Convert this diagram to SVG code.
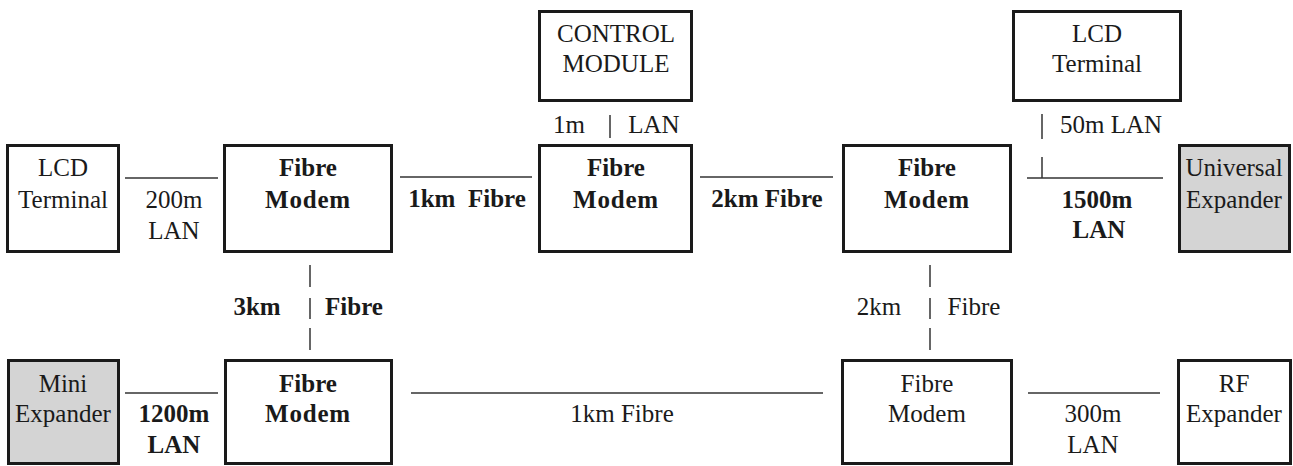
<svg xmlns="http://www.w3.org/2000/svg" width="1293" height="466" viewBox="0 0 1293 466">
<style>
.box{fill:#ffffff;stroke:#1a1a1a;stroke-width:3}
.grey{fill:#d4d4d4}
text{font-family:'Liberation Serif','Times New Roman',serif;font-size:25px;fill:#1a1a1a;text-anchor:middle}
.b{font-weight:bold}
.m{letter-spacing:0.8px}
.conn line{stroke:#333;stroke-width:1.5}
</style>
<rect width="1293" height="466" fill="#ffffff"/>
<g class="conn" id="connectors">
<line x1="125" y1="178" x2="218" y2="178"/>
<line x1="400" y1="177" x2="532" y2="177"/>
<line x1="700" y1="177" x2="833" y2="177"/>
<line x1="1027" y1="178" x2="1163" y2="178"/>
<line x1="1042" y1="157" x2="1042" y2="178"/>
<line x1="1042" y1="114" x2="1042" y2="139"/>
<line x1="610" y1="115" x2="610" y2="138"/>
<line x1="310" y1="265" x2="310" y2="287"/>
<line x1="310" y1="298" x2="310" y2="319"/>
<line x1="310" y1="328" x2="310" y2="350"/>
<line x1="930" y1="265" x2="930" y2="287"/>
<line x1="930" y1="298" x2="930" y2="319"/>
<line x1="930" y1="328" x2="930" y2="350"/>
<line x1="125" y1="393" x2="218" y2="393"/>
<line x1="411" y1="393" x2="823" y2="393"/>
<line x1="1028" y1="393" x2="1160" y2="393"/>
</g>
<g id="labels">
<text x="174" y="208">200m</text>
<text x="174" y="239">LAN</text>
<text class="b" x="467" y="207" xml:space="preserve">1km  Fibre</text>
<text class="b" x="767" y="207">2km Fibre</text>
<text x="569" y="133">1m</text>
<text x="654" y="133">LAN</text>
<text x="1111" y="133">50m LAN</text>
<text class="b" x="1097" y="208">1500m</text>
<text class="b" x="1099" y="238">LAN</text>
<text class="b" x="257" y="315">3km</text>
<text class="b" x="354" y="315">Fibre</text>
<text x="879" y="315">2km</text>
<text x="974" y="315">Fibre</text>
<text class="b" x="174" y="422">1200m</text>
<text class="b" x="174" y="453">LAN</text>
<text x="622" y="422">1km Fibre</text>
<text x="1093" y="422">300m</text>
<text x="1093" y="453">LAN</text>
</g>
<g id="lcd-terminal-left">
<rect class="box" x="7.5" y="145.5" width="111" height="106"/>
<text x="63" y="176">LCD</text>
<text x="63" y="208">Terminal</text>
</g>
<g id="fibre-modem-1">
<rect class="box" x="224.5" y="145.5" width="167" height="106"/>
<text class="b" x="308" y="176">Fibre</text>
<text class="b m" x="308" y="208">Modem</text>
</g>
<g id="control-module">
<rect class="box" x="539.5" y="11.5" width="152" height="89"/>
<text x="616" y="42">CONTROL</text>
<text x="616" y="72">MODULE</text>
</g>
<g id="fibre-modem-2">
<rect class="box" x="539.5" y="145.5" width="152" height="106"/>
<text class="b" x="616" y="176">Fibre</text>
<text class="b m" x="616" y="208">Modem</text>
</g>
<g id="fibre-modem-3">
<rect class="box" x="843.5" y="145.5" width="167" height="106"/>
<text class="b" x="927" y="176">Fibre</text>
<text class="b m" x="927" y="208">Modem</text>
</g>
<g id="lcd-terminal-right">
<rect class="box" x="1013.5" y="11.5" width="167" height="89"/>
<text x="1097" y="42">LCD</text>
<text x="1097" y="72">Terminal</text>
</g>
<g id="universal-expander">
<rect class="box grey" x="1179.5" y="145.5" width="110" height="106"/>
<text x="1234" y="176">Universal</text>
<text x="1234" y="208">Expander</text>
</g>
<g id="mini-expander">
<rect class="box grey" x="8.5" y="360.5" width="110" height="103"/>
<text x="63" y="392">Mini</text>
<text x="63" y="422">Expander</text>
</g>
<g id="fibre-modem-4">
<rect class="box" x="225.5" y="360.5" width="166" height="103"/>
<text class="b" x="308" y="392">Fibre</text>
<text class="b m" x="308" y="422">Modem</text>
</g>
<g id="fibre-modem-5">
<rect class="box" x="842.5" y="360.5" width="169" height="103"/>
<text x="927" y="392">Fibre</text>
<text x="927" y="422">Modem</text>
</g>
<g id="rf-expander">
<rect class="box" x="1178.5" y="360.5" width="112" height="103"/>
<text x="1234" y="392">RF</text>
<text x="1234" y="422">Expander</text>
</g>
</svg>
